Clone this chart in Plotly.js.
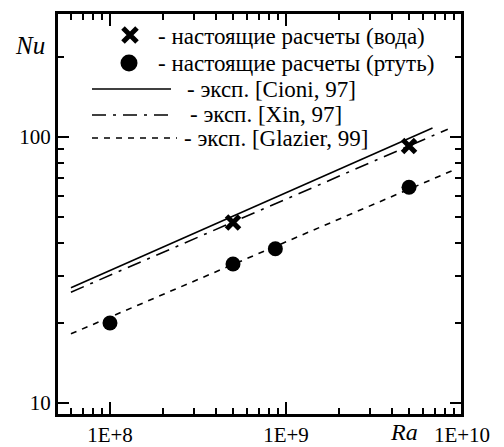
<!DOCTYPE html>
<html><head><meta charset="utf-8">
<script src="https://cdn.plot.ly/plotly-3.0.1.min.js"></script>
<style>html,body{margin:0;padding:0;background:#fff}#c{width:504px;height:447px}</style>
</head><body><div id="c"></div>
<script>
// --- data ---
const waterRa = [5e8, 5e9];
const waterNu = [47.7, 92.5];
const mercuryRa = [1e8, 5e8, 8.7e8, 5e9];
const mercuryNu = [20.0, 33.3, 38.0, 64.7];
const cioniRa = [6e7, 6.8e9];
const cioniNu = [27.1, 108];
const xinRa = [6e7, 8.3e9];
const xinNu = [26.1, 107];
const glazierRa = [6e7, 8.8e9];
const glazierNu = [18.2, 74.7];

const xTickVals = [1e8, 1e9, 1e10];
const xTickText = ["1E+8", "1E+9", "1E+10"];
const xMinorVals = [6e7,7e7,8e7,9e7,2e8,3e8,4e8,5e8,6e8,7e8,8e8,9e8,2e9,3e9,4e9,5e9,6e9,7e9,8e9,9e9];
const yTickVals = [10, 100];
const yTickText = ["10", "100"];
const yMinorVals = [20,30,40,50,60,70,80,90,200];

const legendLabels = [
  "- настоящие расчеты (вода)",
  "- настоящие расчеты (ртуть)",
  "- эксп. [Cioni, 97]",
  "- эксп. [Xin, 97]",
  "- эксп. [Glazier, 99]"
];

const FONT = "Liberation Serif, Times New Roman, serif";
const xinDash = "14px,7px,3px,7px";
const glzDash = "6px,6px";
const XR = [Math.log10(5e7), 10];
const YR = [0.955, 2.466];

const traces = [
  {x: cioniRa, y: cioniNu, mode: "lines", line: {color: "#000", width: 1.6}, hoverinfo: "skip"},
  {x: xinRa, y: xinNu, mode: "lines", line: {color: "#000", width: 1.6, dash: xinDash}, hoverinfo: "skip"},
  {x: glazierRa, y: glazierNu, mode: "lines", line: {color: "#000", width: 1.6, dash: glzDash}, hoverinfo: "skip"},
  {x: waterRa, y: waterNu, mode: "markers", marker: {symbol: "x-thin", size: 13, color: "#000", line: {color: "#000", width: 5}}},
  {x: mercuryRa, y: mercuryNu, mode: "markers", marker: {symbol: "circle", size: 15, color: "#000"}},
  // legend glyph markers on pixel-like overlay axes
  {x: [130], y: [35], xaxis: "x2", yaxis: "y2", mode: "markers", marker: {symbol: "x-thin", size: 14, color: "#000", line: {color: "#000", width: 5}}},
  {x: [129], y: [63], xaxis: "x2", yaxis: "y2", mode: "markers", marker: {symbol: "circle", size: 17, color: "#000"}},
  // invisible trace to attach minor-tick axes
  {x: [1e8], y: [20], xaxis: "x3", yaxis: "y3", mode: "markers", marker: {opacity: 0}, hoverinfo: "skip"}
];

const legendY = [36, 63, 89, 114, 138];
const legendX = [156, 156, 185, 188, 182];

const annotations = legendLabels.map((t, i) => ({
  text: t, xref: "x2", yref: "y2", x: legendX[i], y: legendY[i],
  xanchor: "left", yanchor: "middle", showarrow: false,
  font: {family: FONT, size: 23, color: "#000"}
}));
annotations.push({text: "<i>Nu</i>", xref: "paper", yref: "paper", x: -0.067, y: 0.918,
  xanchor: "center", yanchor: "middle", showarrow: false, font: {family: FONT, size: 25, color: "#000"}});
annotations.push({text: "<i>Ra</i>", xref: "paper", yref: "paper", x: 0.857, y: -0.042,
  xanchor: "center", yanchor: "middle", showarrow: false, font: {family: FONT, size: 24, color: "#000"}});

const shapes = [
  {type: "line", xref: "x2", yref: "y2", x0: 92, x1: 171, y0: 89, y1: 89, line: {color: "#000", width: 1.6}},
  {type: "line", xref: "x2", yref: "y2", x0: 92, x1: 171, y0: 115, y1: 115, line: {color: "#000", width: 1.6, dash: xinDash}},
  {type: "line", xref: "x2", yref: "y2", x0: 92, x1: 177, y0: 138, y1: 138, line: {color: "#000", width: 1.6, dash: glzDash}},
  {type: "rect", xref: "paper", yref: "paper", x0: 0, x1: 1, y0: 0, y1: 1, line: {color: "#000", width: 2}}
];

const axBase = {ticks: "inside", tickwidth: 2, tickcolor: "#000", showgrid: false, zeroline: false,
  tickfont: {family: FONT, size: 21, color: "#000"}};

const layout = {
  width: 504, height: 447,
  margin: {l: 57, r: 42, t: 13, b: 32, pad: 0},
  paper_bgcolor: "#fff", plot_bgcolor: "#fff",
  showlegend: false,
  font: {family: FONT, size: 21, color: "#000"},
  xaxis: Object.assign({}, axBase, {
    type: "log", range: XR, autorange: false,
    tickmode: "array", tickvals: xTickVals, ticktext: xTickText, ticklen: 13,
    showline: true, linewidth: 2, linecolor: "#000", mirror: "ticks"
  }),
  yaxis: Object.assign({}, axBase, {
    type: "log", range: YR, autorange: false,
    tickmode: "array", tickvals: yTickVals, ticktext: yTickText, ticklen: 12,
    showline: true, linewidth: 2, linecolor: "#000", mirror: "ticks"
  }),
  xaxis3: Object.assign({}, axBase, {
    overlaying: "x", type: "log", range: XR, autorange: false,
    tickmode: "array", tickvals: xMinorVals, ticklen: 7, showticklabels: false,
    showline: false, mirror: "ticks", anchor: "y3"
  }),
  yaxis3: Object.assign({}, axBase, {
    overlaying: "y", type: "log", range: YR, autorange: false,
    tickmode: "array", tickvals: yMinorVals, ticklen: 7, showticklabels: false,
    showline: false, mirror: "ticks", anchor: "x3"
  }),
  xaxis2: {overlaying: "x", range: [57, 462], autorange: false, visible: false, fixedrange: true, anchor: "y2"},
  yaxis2: {overlaying: "y", range: [415, 13], autorange: false, visible: false, fixedrange: true, anchor: "x2"},
  annotations: annotations,
  shapes: shapes
};

Plotly.newPlot("c", traces, layout, {staticPlot: true, displayModeBar: false});
</script>
</body></html>
